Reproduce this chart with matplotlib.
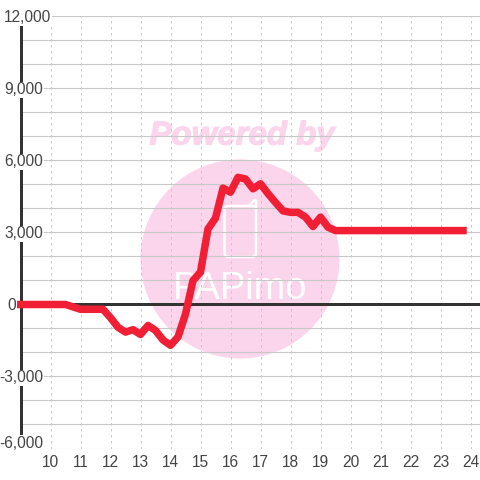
import matplotlib
matplotlib.use('Agg')
import matplotlib.pyplot as plt
import matplotlib.patheffects as pe
from matplotlib.patches import Circle, FancyBboxPatch

plt.rcParams['font.family'] = ['Liberation Sans', 'DejaVu Sans']

# hours every 15 minutes
horas = [9 + i * 0.25 for i in range(60)]
valores = [0, 0, 0, 0, 0, 0, 0, -100, -200,
           -200, -200, -200, -550, -950, -1150, -1050, -1250, -875, -1080, -1480, -1700,
           -1350, -400, 1000, 1350, 3150, 3600, 4850, 4680, 5300, 5230, 4820, 5030,
           4620, 4250, 3900, 3840, 3840, 3640, 3250, 3640, 3220, 3080, 3080, 3080,
           3080, 3080, 3080, 3080, 3080, 3080, 3080, 3080, 3080, 3080, 3080, 3080,
           3080, 3080, 3080]

ticks_x = list(range(10, 25))
ticks_y = [-6000, -3000, 0, 3000, 6000, 9000, 12000]
labels_y = ['-6,000', '-3,000', '0', '3,000', '6,000', '9,000', '12,000']
# pixel right edge and vertical shift of every y label
labels_dir = [43, 43, 16, 43, 43, 43, 51]
labels_dy = [7, 0, 0, 0, 0, 0, 0]

W, H = 480, 480
PT = 72 / 100
fig = plt.figure(figsize=(4.8, 4.8), dpi=100)
ax = fig.add_axes([20.5 / W, 1 - 448.5 / H, (W - 20.5) / W, (448.5 - 16.5) / H])
ax.set_xlim(9, 9 + (W - 20.5) / 30)
ax.set_ylim(-6000, 12000)
ax.set_facecolor('none')

ax.set_xticks(ticks_x)
ax.set_yticks(ticks_y)
ax.set_yticks(range(-6000, 12001, 1000), minor=True)
ax.set_yticklabels([])
ax.grid(True, axis='x', color='#c8c8c8', lw=1 * PT, ls=(0, (2.5, 3.5)), zorder=2)
ax.grid(True, axis='y', which='both', color='#c8c8c8', lw=1.1 * PT, zorder=2)
ax.tick_params(axis='both', which='both', length=0)
ax.tick_params(axis='x', labelsize=15.5 * PT, labelcolor='#444444', pad=5)
for s in ['top', 'right', 'bottom']:
    ax.spines[s].set_visible(False)
ax.spines['left'].set_color('#333333')
ax.spines['left'].set_linewidth(3 * PT)
ax.spines['left'].set_zorder(3)

# watermark, drawn in figure pixels behind the axes
px = fig.add_axes([0, 0, 1, 1], zorder=-1)
px.set_xlim(0, W)
px.set_ylim(H, 0)
px.axis('off')
rosa = '#fbd5ec'
px.add_patch(Circle((240, 259), 99.5, color=rosa, lw=0))
px.add_patch(FancyBboxPatch((224.5, 206), 31.5, 51, boxstyle='round,pad=0,rounding_size=4',
                            fc='none', ec='white', lw=2.5 * PT))
px.plot([249, 254, 256, 256], [206, 200.5, 200.5, 210], color='white', lw=2.5 * PT,
        solid_capstyle='round')
px.text(240, 289, 'PAPimo', color='white', fontsize=38 * PT, ha='center', va='center')
px.text(242, 136, 'Powered by', color=rosa, fontsize=33 * PT, weight='bold', style='italic',
        ha='center', va='center',
        path_effects=[pe.withStroke(linewidth=1.2 * PT, foreground=rosa)])

ax.axhline(0, color='#333333', lw=3 * PT, zorder=3)
ax.plot(horas, valores, color='#f01f36', lw=7.5 * PT, solid_capstyle='projecting',
        solid_joinstyle='round', zorder=4, clip_on=False)

# y labels have a white box that cuts the axis line
for v, t, d, dy in zip(ticks_y, labels_y, labels_dir, labels_dy):
    ax.annotate(t, xy=(0, v), xycoords=('axes fraction', 'data'),
                xytext=((d - 20.5) * PT, dy * PT), textcoords='offset points',
                ha='right', va='center_baseline', fontsize=15.5 * PT, color='#444444', zorder=5,
                bbox=dict(fc='white', ec='none', pad=0.5), annotation_clip=False)

fig.savefig('out.png', dpi=100)
